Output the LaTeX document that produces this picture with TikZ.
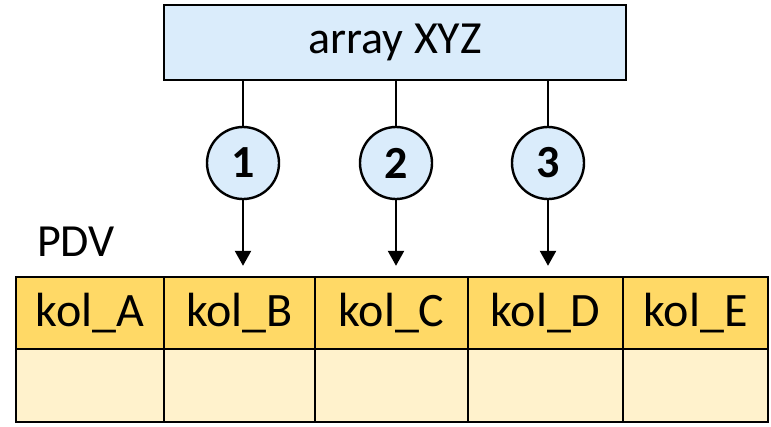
\documentclass[tikz,border=0pt]{standalone}
\usepackage{fontspec}
\setmainfont{Carlito}
\usetikzlibrary{arrows.meta}
\definecolor{boxblue}{RGB}{218,236,251}
\definecolor{headgold}{RGB}{255,217,102}
\definecolor{bodycream}{RGB}{255,242,204}
\tikzset{
  outline/.style={draw=black, line width=2.4pt},
  topbox/.style={outline, fill=boxblue, rectangle, minimum width=462pt, minimum height=75pt, inner sep=0pt, font=\fontsize{46}{50}\selectfont},
  numcircle/.style={outline, fill=boxblue, circle, minimum size=72pt, inner sep=0pt, font=\fontsize{46}{50}\selectfont\bfseries},
  headcell/.style={outline, fill=headgold, rectangle, minimum height=72pt, inner sep=0pt, font=\fontsize{48}{52}\selectfont},
  bodycell/.style={outline, fill=bodycream, rectangle, minimum height=73pt, inner sep=0pt},
  conn/.style={line width=2.4pt},
  arr/.style={conn, -{Triangle[length=15pt,width=16pt]}, shorten >=10pt},
}
\begin{document}
\begin{tikzpicture}[x=1pt,y=-1pt]
\useasboundingbox (0,0) rectangle (771,426);
% table
\node[headcell, minimum width=148pt] (A) at (90,313) {kol\_A};
\node[headcell, minimum width=151pt] (B) at (239.5,313) {kol\_B};
\node[headcell, minimum width=153pt] (C) at (391.5,313) {kol\_C};
\node[headcell, minimum width=155pt] (D) at (545.5,313) {kol\_D};
\node[headcell, minimum width=145pt] (E) at (695.5,313) {kol\_E};
\node[bodycell, minimum width=148pt] (A2) at (90,385.5) {};
\node[bodycell, minimum width=151pt] (B2) at (239.5,385.5) {};
\node[bodycell, minimum width=153pt] (C2) at (391.5,385.5) {};
\node[bodycell, minimum width=155pt] (D2) at (545.5,385.5) {};
\node[bodycell, minimum width=145pt] (E2) at (695.5,385.5) {};
% label
\node[anchor=base west, inner sep=0pt, font=\fontsize{46}{50}\selectfont] (pdv) at (37,256) {PDV};
% top box
\node[topbox] (xyz) at (395,42.5) {array XYZ};
% circles
\node[numcircle] (n1) at (243,163) {1};
\node[numcircle] (n2) at (396,163) {2};
\node[numcircle] (n3) at (548,163) {3};
% connectors
\draw[conn] (xyz.south -| n1) -- (n1);
\draw[conn] (xyz.south -| n2) -- (n2);
\draw[conn] (xyz.south -| n3) -- (n3);
\draw[arr] (n1) -- (n1 |- B.north);
\draw[arr] (n2) -- (n2 |- C.north);
\draw[arr] (n3) -- (n3 |- D.north);
\end{tikzpicture}
\end{document}
